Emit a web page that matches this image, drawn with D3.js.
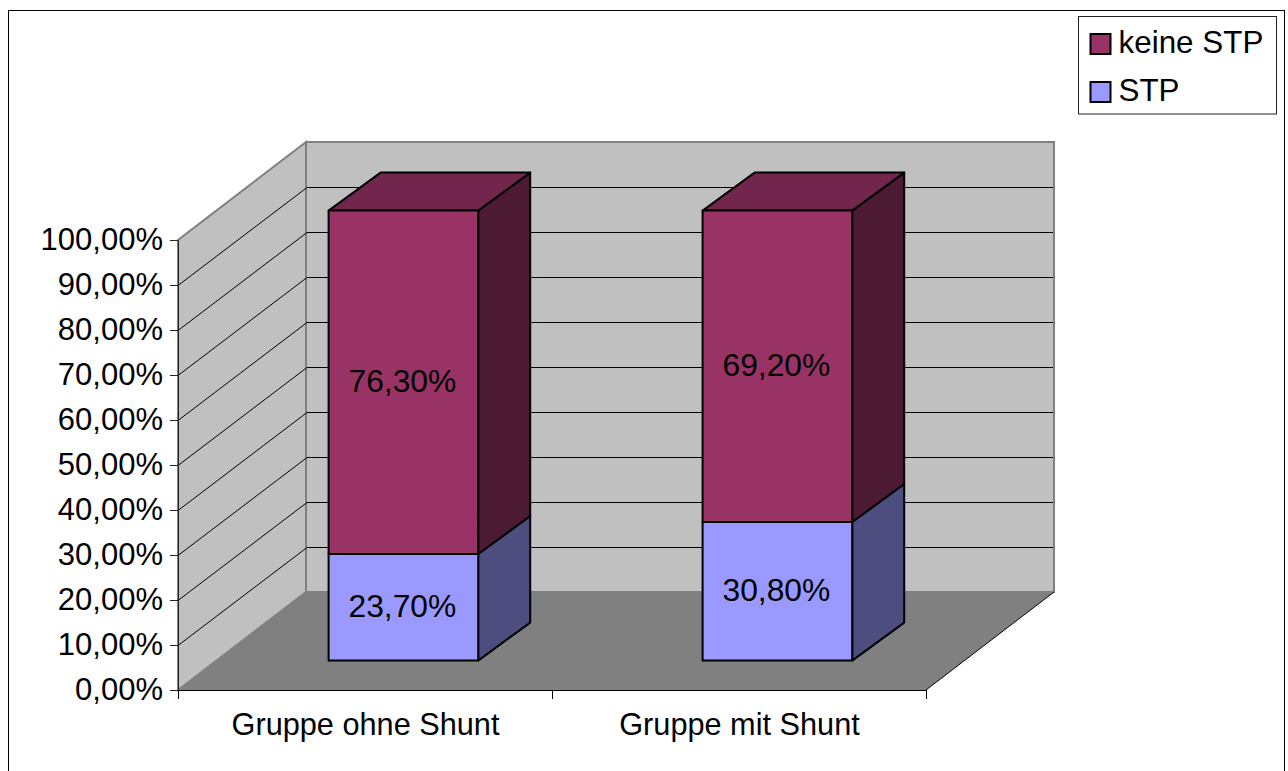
<!DOCTYPE html>
<html>
<head>
<meta charset="utf-8">
<script src="https://cdn.jsdelivr.net/npm/d3@7"></script>
<style>
  body { margin: 0; background: #fff; }
  text { font-family: "Liberation Sans", Arial, sans-serif; font-size: 31px; fill: #000; }
  text.xlabel { font-size: 30.7px; }
  text.vallabel { font-size: 31.8px; }
  text.legtext { font-size: 31.4px; }
</style>
</head>
<body>
<svg class="chart" width="1288" height="771"></svg>
<script>
var categories = ['Gruppe ohne Shunt', 'Gruppe mit Shunt'];
var stpValues = [23.7, 30.8];
var keineStpValues = [76.3, 69.2];
var yTicks = [0, 10, 20, 30, 40, 50, 60, 70, 80, 90, 100];
var legendLabels = ['keine STP', 'STP'];

var svg = d3.select('.chart');
var fmt = function (v) { return v.toFixed(2).replace('.', ',') + '%'; };

var xScale = d3.scaleBand().domain(categories).range([178, 926]).paddingInner(0.6).paddingOuter(0.3);
var yScale = d3.scaleLinear().domain([0, 100]).range([690, 240]);
// depth of the 3d box, 0 = front of floor, 1 = back wall
var zx = d3.scaleLinear().domain([0, 1]).range([0, 128]);
var zy = d3.scaleLinear().domain([0, 1]).range([0, -98]);
var barFront = 0.3;
var barDepthX = 52, barDepthY = -38;

function pt(x, v, z) {
  return [x + zx(z), yScale(v) + zy(z)];
}
function poly(points) {
  return points.map(function (p) { return p.join(','); }).join(' ');
}

// chart frame
svg.append('rect').attr('x', 8.5).attr('y', 10.5).attr('width', 1276).attr('height', 780)
  .attr('fill', '#fff').attr('stroke', '#000').attr('stroke-width', 1);

var left = xScale.range()[0], right = xScale.range()[1];

// walls and floor
svg.append('polygon')
  .attr('points', poly([pt(left, 0, 0), pt(left, 100, 0), pt(left, 100, 1), pt(left, 0, 1)]))
  .attr('fill', '#c0c0c0').attr('stroke', '#808080').attr('stroke-width', 2);
svg.append('polygon')
  .attr('points', poly([pt(left, 0, 1), pt(left, 100, 1), pt(right, 100, 1), pt(right, 0, 1)]))
  .attr('fill', '#c0c0c0').attr('stroke', '#808080').attr('stroke-width', 2);
svg.append('polygon')
  .attr('points', poly([pt(left, 0, 0), pt(left, 0, 1), pt(right, 0, 1), pt(right, 0, 0)]))
  .attr('fill', '#808080');
svg.append('line')
  .attr('x1', pt(right, 0, 0)[0]).attr('y1', pt(right, 0, 0)[1])
  .attr('x2', pt(right, 0, 1)[0]).attr('y2', pt(right, 0, 1)[1])
  .attr('stroke', '#000').attr('stroke-width', 1);

// gridlines
var gridTicks = yTicks.filter(function (t) { return t > 0 && t < 100; });
svg.append('g').attr('transform', 'translate(0,0.5)')
  .selectAll('.grid').data(gridTicks).enter().append('polyline')
  .attr('class', 'grid')
  .attr('points', function (t) { return poly([pt(left, t, 0), pt(left + 1, t, 1), pt(right - 1, t, 1)]); })
  .attr('fill', 'none').attr('stroke', '#000').attr('stroke-width', 1);

// axes
var yAxis = d3.axisLeft(yScale).tickValues(yTicks).tickFormat(fmt).tickSizeInner(8).tickSizeOuter(0).tickPadding(7);
var gy = svg.append('g').attr('transform', 'translate(178,0)').call(yAxis);
gy.selectAll('line,path').attr('stroke', '#222');

var xEdges = d3.scaleLinear().domain([0, categories.length]).range([left, right]);
var xAxis = d3.axisBottom(xEdges).tickValues(d3.range(categories.length + 1)).tickSize(9).tickSizeOuter(0).tickFormat('');
svg.append('g').attr('transform', 'translate(0,690)').call(xAxis)
  .selectAll('line,path').attr('stroke', '#000');

svg.selectAll('.xlabel').data(categories).enter().append('text')
  .attr('class', 'xlabel')
  .attr('x', function (d) { return xScale(d) + xScale.bandwidth() / 2 + 0.5; })
  .attr('y', 735)
  .attr('text-anchor', 'middle')
  .text(function (d) { return d; });

// stacked boxes
function drawBox(cat, v0, v1, front, top, side) {
  var x0 = xScale(cat) + zx(barFront), x1 = x0 + xScale.bandwidth();
  var y0 = yScale(v0) + zy(barFront), y1 = yScale(v1) + zy(barFront);
  var dx = barDepthX, dy = barDepthY;
  var g = svg.append('g').attr('stroke', '#000').attr('stroke-width', 2).attr('stroke-linejoin', 'round');
  g.append('polygon').attr('points', poly([[x1, y0], [x1 + dx, y0 + dy], [x1 + dx, y1 + dy], [x1, y1]])).attr('fill', side);
  if (top) {
    g.append('polygon').attr('points', poly([[x0, y1], [x0 + dx, y1 + dy], [x1 + dx, y1 + dy], [x1, y1]])).attr('fill', top);
  }
  g.append('polygon').attr('points', poly([[x0, y0], [x1, y0], [x1, y1], [x0, y1]])).attr('fill', front);
}

categories.forEach(function (cat, i) {
  drawBox(cat, 0, stpValues[i], '#9999ff', null, '#4d4d80');
  drawBox(cat, stpValues[i], 100, '#993366', '#73264d', '#4d1a33');
});

// value labels
categories.forEach(function (cat, i) {
  var cx = xScale(cat) + zx(barFront) + xScale.bandwidth() / 2 - 1;
  [[0, stpValues[i]], [stpValues[i], 100]].forEach(function (s, j) {
    var v = j === 0 ? stpValues[i] : keineStpValues[i];
    svg.append('text')
      .attr('class', 'vallabel')
      .attr('x', cx)
      .attr('y', (yScale(s[0]) + yScale(s[1])) / 2 + zy(barFront) + 9.5)
      .attr('text-anchor', 'middle')
      .text(fmt(v));
  });
});

// legend
svg.append('rect').attr('x', 1078.5).attr('y', 16.5).attr('width', 198).attr('height', 97.5)
  .attr('fill', '#fff').attr('stroke', '#222').attr('stroke-width', 1);
var legendColors = d3.scaleOrdinal().domain(legendLabels).range(['#993366', '#9999ff']);
var legendY = d3.scalePoint().domain(legendLabels).range([44, 92]);
svg.selectAll('.swatch').data(legendLabels).enter().append('rect')
  .attr('class', 'swatch')
  .attr('x', 1090.5).attr('y', function (d) { return legendY(d) - 10; })
  .attr('width', 20).attr('height', 20)
  .attr('fill', function (d) { return legendColors(d); })
  .attr('stroke', '#000').attr('stroke-width', 2);
svg.selectAll('.legtext').data(legendLabels).enter().append('text')
  .attr('class', 'legtext')
  .attr('x', 1118.5).attr('y', function (d) { return legendY(d) + 9; })
  .text(function (d) { return d; });
</script>
</body>
</html>
